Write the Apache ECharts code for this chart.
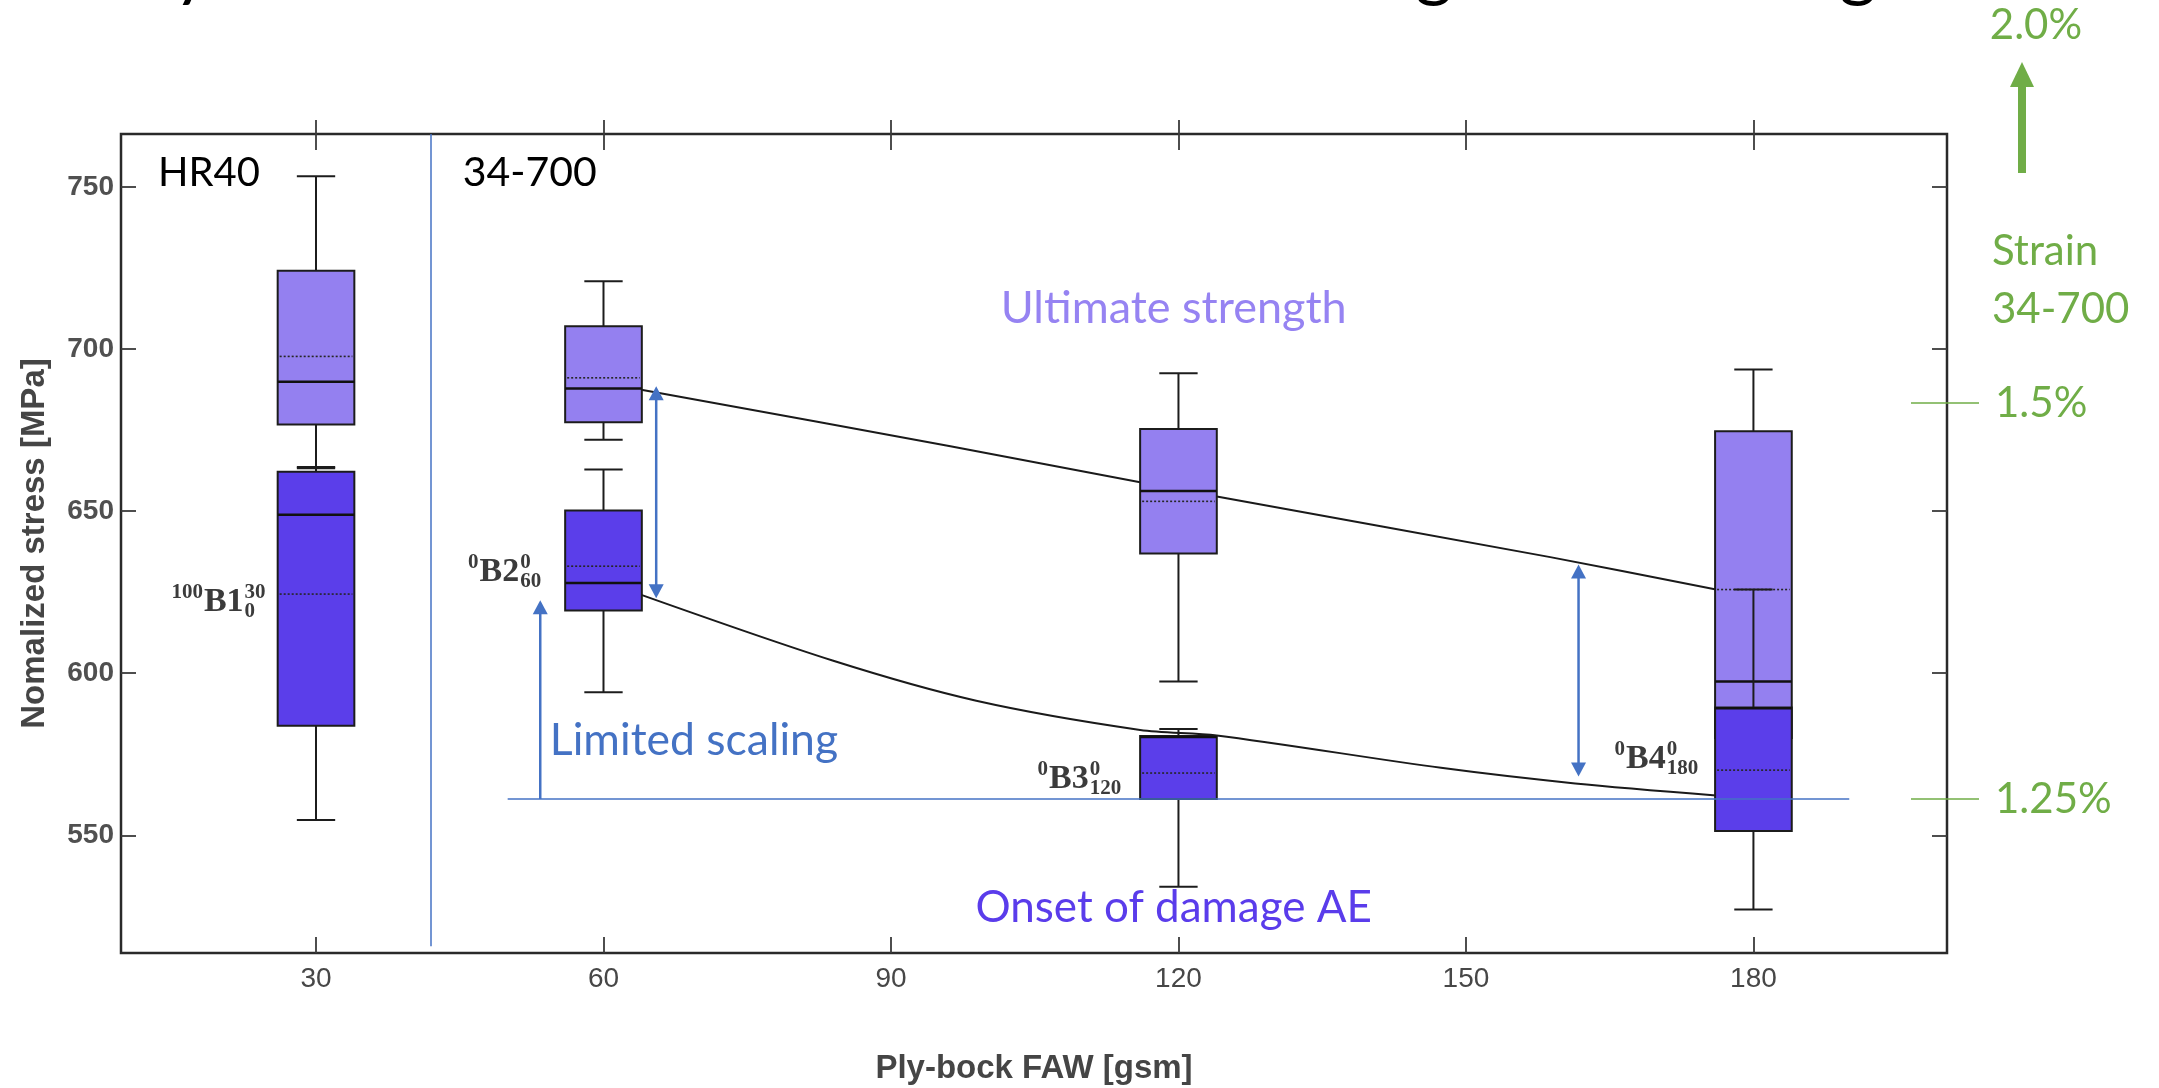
<!DOCTYPE html>
<html>
<head>
<meta charset="utf-8">
<title>Normalized stress vs ply-block FAW</title>
<script src="https://cdn.jsdelivr.net/npm/echarts@6.0.0/dist/echarts.min.js"></script>
<style>
  html, body { margin: 0; padding: 0; background: #ffffff; }
  #chart { width: 2159px; height: 1088px; }
</style>
</head>
<body>
<div id="chart"></div>
<script>
// ---------------- data ----------------
// Ply-block FAW [gsm] of each laminate group
const fawGroups = [30, 60, 120, 180];
const groupMain = ['B1', 'B2', 'B3', 'B4'];
const groupPrefix = ['100', '0', '0', '0'];
const groupSup = ['30', '0', '0', '0'];
const groupSub = ['0', '60', '120', '180'];

// Ultimate strength, normalized stress [MPa]
const ultLow = [663.6, 672.0, 597.4, 565.0];
const ultQ1 = [676.7, 677.4, 636.9, 580.0];
const ultMedian = [689.9, 687.8, 656.2, 597.4];
const ultQ3 = [724.1, 707.0, 675.3, 674.6];
const ultHigh = [753.3, 720.9, 692.5, 693.7];
const ultMean = [697.7, 691.1, 653.0, 625.8];

// Onset of damage (acoustic emission), normalized stress [MPa]
const aeLow = [554.7, 594.1, 534.1, 527.1];
const aeQ1 = [583.8, 619.3, 561.2, 551.3];
const aeMedian = [648.9, 627.8, 580.3, 589.2];
const aeQ3 = [662.1, 650.2, 580.6, 589.4];
const aeHigh = [663.2, 662.8, 582.8, 625.8];
const aeMean = [624.4, 633.0, 569.2, 570.1];

// Trend curves through the 34-700 groups
const ultTrendX = [63.8, 96.2, 116, 124, 158.8, 176.1];
const ultTrendY = [687.5, 670.0, 658.9, 654.5, 635.8, 625.8];
const aeTrendX = [63.8, 83.9, 98.9, 116, 124, 147.4, 161.4, 176.1];
const aeTrendY = [624.3, 603.9, 591.5, 582.5, 580.8, 570.8, 566.0, 562.3];

// Limited-scaling reference level and arrows (x, from, to)
const scalingLevel = 561.2;
const scalingSpan = [50, 190];
const arrowX = [53.4, 65.5, 161.75];
const arrowFrom = [561.2, 623.1, 568.1];
const arrowTo = [622.5, 688.5, 633.5];
const arrowBoth = [0, 1, 1];

// HR40 | 34-700 separator
const separatorX = 42;
const separatorBottom = 515.8;

// Tick labels
const xTicks = [30, 60, 90, 120, 150, 180];
const yTicks = [550, 600, 650, 700, 750];

// Strain levels of 34-700 (stress equivalents)
const strainLabels = ['1.25%', '1.5%'];
const strainStress = [561.2, 683.3];
const strainTop = '2.0%';

// ---------------- layout & style ----------------
const X_RANGE = [9.65, 200.2];
const Y_RANGE = [513.7, 766.3];
const BOX_HALF = 4;   // box half width, gsm
const CAP_HALF = 2;   // whisker cap half width, gsm

const SANS = "'Liberation Sans', Arial, sans-serif";
const TEXT = "Lato, 'Open Sans', sans-serif";
const SERIF = "'Liberation Serif', 'DejaVu Serif', serif";

const COL = {
  ult: '#9480f0',
  ae: '#5b3eea',
  ultText: '#9683f2',
  aeText: '#5a3ceb',
  edge: '#1c1c1c',
  blue: '#4472c4',
  green: '#70ad47',
  axisText: '#474747',
  tick: '#3a3a3a'
};

function boxRenderer(fill) {
  return function (params, api) {
    const x = api.value(0);
    const y = (v) => api.coord([x, v])[1];
    const cx = api.coord([x, api.value(3)])[0];
    const yLow = y(api.value(1)), yQ1 = y(api.value(2)), yMed = y(api.value(3));
    const yQ3 = y(api.value(4)), yHigh = y(api.value(5)), yMean = y(api.value(6));
    const hw = api.size([BOX_HALF, 0])[0];
    const cw = api.size([CAP_HALF, 0])[0];
    const stroke = { stroke: COL.edge, lineWidth: 2 };
    return {
      type: 'group',
      children: [
        { type: 'line', shape: { x1: cx, y1: yQ3, x2: cx, y2: yHigh }, style: stroke },
        { type: 'line', shape: { x1: cx - cw, y1: yHigh, x2: cx + cw, y2: yHigh }, style: stroke },
        { type: 'line', shape: { x1: cx, y1: yQ1, x2: cx, y2: yLow }, style: stroke },
        { type: 'line', shape: { x1: cx - cw, y1: yLow, x2: cx + cw, y2: yLow }, style: stroke },
        { type: 'rect', shape: { x: cx - hw, y: yQ3, width: 2 * hw, height: yQ1 - yQ3 },
          style: { fill: fill, stroke: COL.edge, lineWidth: 2 } },
        { type: 'line', shape: { x1: cx - hw, y1: yMed, x2: cx + hw, y2: yMed },
          style: { stroke: '#111', lineWidth: 2.5 } },
        { type: 'line', shape: { x1: cx - hw + 2, y1: yMean, x2: cx + hw - 2, y2: yMean },
          style: { stroke: '#262626', lineWidth: 1.6, lineDash: [2, 2] } }
      ]
    };
  };
}

function arrowRenderer(params, api) {
  const x = api.value(0);
  const a = api.coord([x, api.value(1)]);
  const b = api.coord([x, api.value(2)]);
  const both = api.value(3) === 1;
  const hl = 14, hw = 7.5;
  const cx = a[0];
  const top = Math.min(a[1], b[1]);
  const bot = Math.max(a[1], b[1]);
  const children = [
    { type: 'line', shape: { x1: cx, y1: top + hl - 1, x2: cx, y2: both ? bot - hl + 1 : bot },
      style: { stroke: COL.blue, lineWidth: 2.5 } },
    { type: 'polygon', shape: { points: [[cx, top], [cx - hw, top + hl], [cx + hw, top + hl]] },
      style: { fill: COL.blue } }
  ];
  if (both) {
    children.push({ type: 'polygon', shape: { points: [[cx, bot], [cx - hw, bot - hl], [cx + hw, bot - hl]] },
      style: { fill: COL.blue } });
  }
  return { type: 'group', children: children };
}

const tickStyle = { color: COL.tick, width: 1.8 };
const baseX = { type: 'value', min: X_RANGE[0], max: X_RANGE[1], splitLine: { show: false }, axisLine: { show: false } };
const baseY = { type: 'value', min: Y_RANGE[0], max: Y_RANGE[1], splitLine: { show: false }, axisLine: { show: false } };

const option = {
  animation: false,
  backgroundColor: '#ffffff',
  grid: {
    left: 121, right: 212, top: 134, bottom: 135,
    show: true, borderColor: '#2a2a2a', borderWidth: 2.5,
    containLabel: false, outerBoundsMode: 'none'
  },
  xAxis: [
    Object.assign({}, baseX, {
      position: 'bottom',
      axisTick: { show: true, inside: true, length: 16, customValues: xTicks, lineStyle: tickStyle },
      axisLabel: { customValues: xTicks, margin: 12, fontFamily: SANS, fontSize: 28, color: COL.axisText },
      name: 'Ply-bock FAW [gsm]', nameLocation: 'middle', nameGap: 99,
      nameTextStyle: { fontFamily: SANS, fontSize: 33, fontWeight: 'bold', color: '#454545' }
    }),
    Object.assign({}, baseX, {
      position: 'top',
      axisTick: { show: true, inside: false, length: 14, customValues: xTicks, lineStyle: tickStyle },
      axisLabel: { show: false }
    }),
    Object.assign({}, baseX, {
      position: 'top',
      axisTick: { show: true, inside: true, length: 16, customValues: xTicks, lineStyle: tickStyle },
      axisLabel: { show: false }
    })
  ],
  yAxis: [
    Object.assign({}, baseY, {
      position: 'left',
      axisTick: { show: true, inside: true, length: 15, customValues: yTicks, lineStyle: tickStyle },
      axisLabel: { customValues: yTicks, margin: 7, fontFamily: SANS, fontSize: 28, fontWeight: 'bold',
        color: '#505050' },
      name: 'Nomalized stress [MPa]', nameLocation: 'middle', nameGap: 70, nameRotate: 90,
      nameTextStyle: { fontFamily: SANS, fontSize: 33, fontWeight: 'bold', color: '#454545' }
    }),
    Object.assign({}, baseY, {
      position: 'right',
      axisTick: { show: true, inside: true, length: 15, customValues: yTicks, lineStyle: tickStyle },
      axisLabel: { show: false }
    }),
    Object.assign({}, baseY, {
      position: 'right',
      axisTick: { show: true, inside: true, length: 36, customValues: strainStress,
        lineStyle: { color: COL.green, width: 1.5 } },
      axisLabel: { show: false }
    }),
    Object.assign({}, baseY, {
      position: 'right',
      axisTick: { show: true, inside: false, length: 32, customValues: strainStress,
        lineStyle: { color: COL.green, width: 1.5 } },
      axisLabel: {
        customValues: strainStress, margin: 48, fontFamily: TEXT, fontSize: 42, color: COL.green,
        formatter: (v) => strainLabels[strainStress.indexOf(v)]
      }
    })
  ],
  series: [
    {
      type: 'line', name: 'Ultimate strength trend', silent: true, z: 1,
      data: ultTrendX.map((x, i) => [x, ultTrendY[i]]),
      smooth: 0.3, symbol: 'none', lineStyle: { color: '#1a1a1a', width: 2 }
    },
    {
      type: 'line', name: 'Onset trend', silent: true, z: 1,
      data: aeTrendX.map((x, i) => [x, aeTrendY[i]]),
      smooth: 0.3, symbol: 'none', lineStyle: { color: '#1a1a1a', width: 2 }
    },
    {
      type: 'custom', name: 'Ultimate strength', z: 2, silent: true,
      renderItem: boxRenderer(COL.ult),
      encode: { x: 0, y: [1, 5] },
      data: fawGroups.map((x, i) => [x, ultLow[i], ultQ1[i], ultMedian[i], ultQ3[i], ultHigh[i], ultMean[i]])
    },
    {
      type: 'custom', name: 'Onset of damage AE', z: 3, silent: true,
      renderItem: boxRenderer(COL.ae),
      encode: { x: 0, y: [1, 5] },
      data: fawGroups.map((x, i) => [x, aeLow[i], aeQ1[i], aeMedian[i], aeQ3[i], aeHigh[i], aeMean[i]])
    },
    {
      type: 'line', name: 'Limited scaling level', silent: true, z: 4,
      data: [[scalingSpan[0], scalingLevel], [scalingSpan[1], scalingLevel]],
      symbol: 'none', lineStyle: { color: COL.blue, width: 1.5 }
    },
    {
      type: 'line', name: 'Fibre separator', silent: true, z: 4,
      data: [[separatorX, Y_RANGE[1]], [separatorX, separatorBottom]],
      symbol: 'none', lineStyle: { color: COL.blue, width: 1.5 }
    },
    {
      type: 'custom', name: 'Scaling arrows', z: 5, silent: true,
      renderItem: arrowRenderer,
      encode: { x: 0, y: [1, 2] },
      data: arrowX.map((x, i) => [x, arrowFrom[i], arrowTo[i], arrowBoth[i]])
    }
  ]
};

const chart = echarts.init(document.getElementById('chart'), null, { renderer: 'canvas' });
chart.setOption(option);

// ---------------- annotations ----------------
const px = (x, y) => chart.convertToPixel({ xAxisIndex: 0, yAxisIndex: 0 }, [x, y]);

const ctx = document.createElement('canvas').getContext('2d');
const textWidth = (t, font) => { ctx.font = font; return ctx.measureText(t).width; };

function textEl(text, x, y, font, fill, align, vAlign) {
  return {
    type: 'text', x: x, y: y, silent: true,
    style: { text: text, font: font, fill: fill, textAlign: align || 'left', textVerticalAlign: vAlign || 'middle',
      align: align || 'left', verticalAlign: vAlign || 'middle' }
  };
}

const graphics = [];

// plot captions anchored in data space
const captions = [
  { text: 'HR40', at: [13.5, 754.2], align: 'left', color: '#000000', size: 40 },
  { text: '34-700', at: [45.3, 754.2], align: 'left', color: '#000000', size: 41 },
  { text: 'Ultimate strength', at: [119.5, 712.6], align: 'center', color: COL.ultText, size: 45 },
  { text: 'Onset of damage AE', at: [119.5, 527.5], align: 'center', color: COL.aeText, size: 44 },
  { text: 'Limited scaling', at: [54.4, 579.1], align: 'left', color: COL.blue, size: 44.5 }
];
captions.forEach((c) => {
  const p = px(c.at[0], c.at[1]);
  graphics.push(textEl(c.text, p[0], p[1], c.size + 'px ' + TEXT, c.color, c.align));
});

// group designations, e.g. 0B2(0,60)
const labelAnchorX = [18.3, 47.07, 106.49, 166.7];
const labelAnchorY = [618.6, 627.9, 564.0, 570.2];
const mainFont = 'bold 34px ' + SERIF;
const scriptFont = 'bold 21px ' + SERIF;
const labelColor = '#3b3b3b';
fawGroups.forEach((g, i) => {
  const p = px(labelAnchorX[i], labelAnchorY[i]);
  const w = textWidth(groupMain[i], mainFont);
  graphics.push(textEl(groupPrefix[i], p[0] - 1, p[1] - 20, scriptFont, labelColor, 'right'));
  graphics.push(textEl(groupMain[i], p[0], p[1] - 10.5, mainFont, labelColor, 'left'));
  graphics.push(textEl(groupSup[i], p[0] + w + 1, p[1] - 20, scriptFont, labelColor, 'left'));
  graphics.push(textEl(groupSub[i], p[0] + w + 1, p[1] - 1, scriptFont, labelColor, 'left'));
});

// strain scale heading on the right
graphics.push(textEl(strainTop, 2036, 25, '42px ' + TEXT, COL.green, 'center'));
graphics.push({ type: 'line', silent: true, shape: { x1: 2022, y1: 173, x2: 2022, y2: 84 },
  style: { stroke: COL.green, lineWidth: 8 } });
graphics.push({ type: 'polygon', silent: true, shape: { points: [[2010, 87], [2034, 87], [2022, 62]] },
  style: { fill: COL.green } });
graphics.push(textEl('Strain', 1992, 251, '42px ' + TEXT, COL.green, 'left'));
graphics.push(textEl('34-700', 1992, 309, '42px ' + TEXT, COL.green, 'left'));

// descenders of the slide heading, cut by the top edge
[[192, 'y'], [1434, 'g'], [1858, 'g']].forEach((d) => {
  graphics.push(textEl(d[1], d[0], -30, '72px ' + TEXT, '#000000', 'center'));
});

chart.setOption({ graphic: { elements: graphics } });
</script>
</body>
</html>
